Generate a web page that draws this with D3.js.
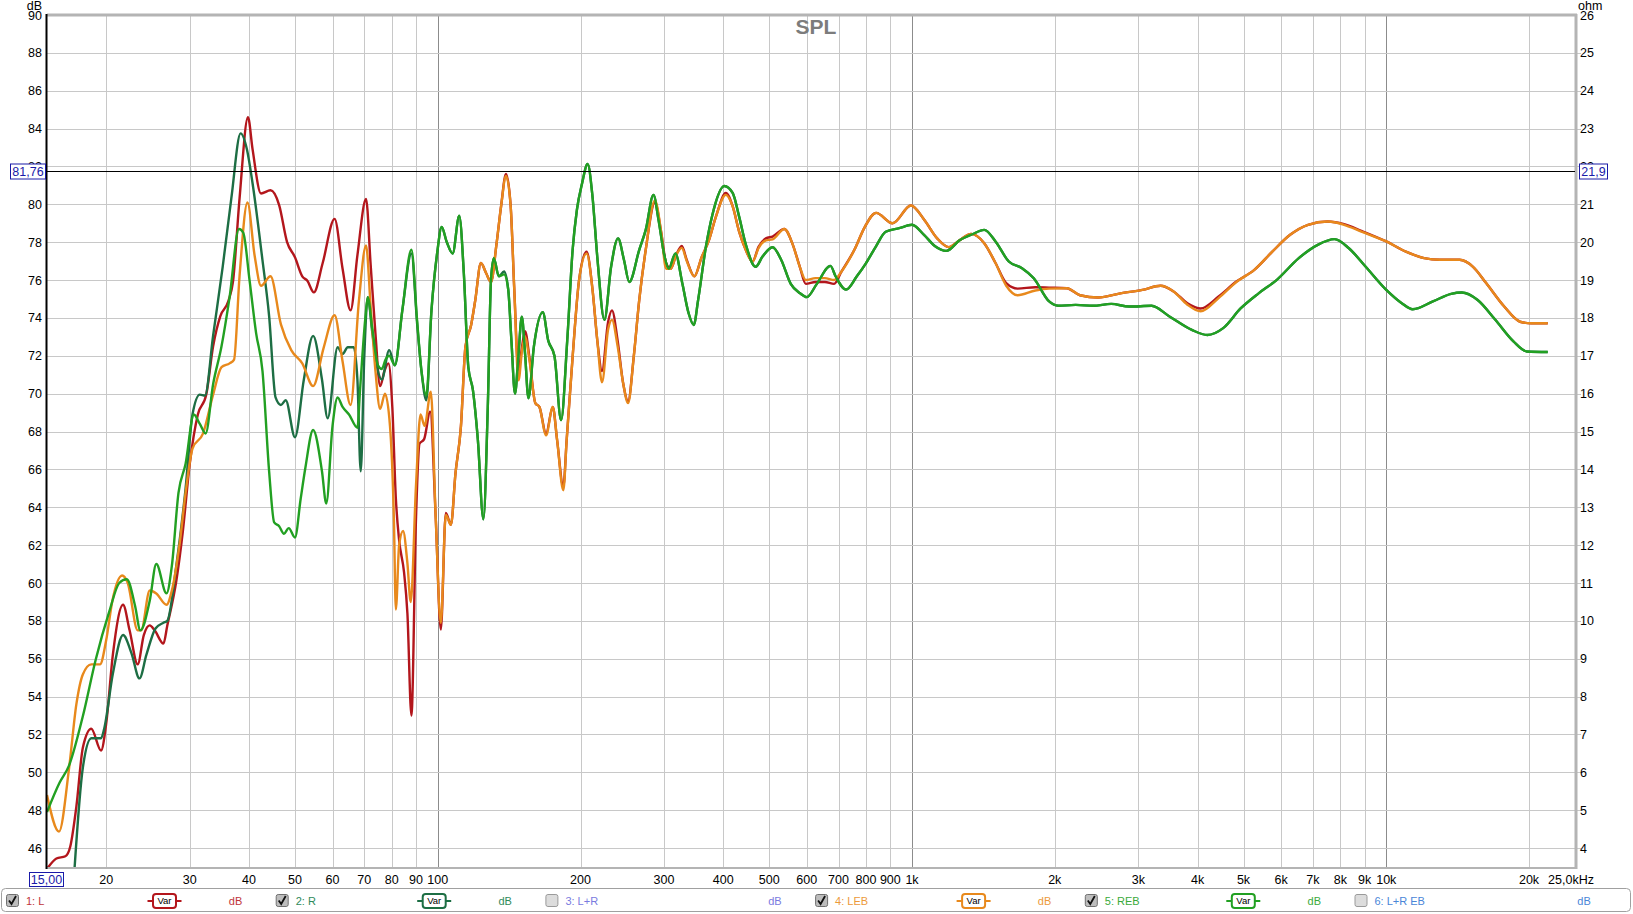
<!DOCTYPE html>
<html><head><meta charset="utf-8">
<script src="https://cdn.jsdelivr.net/npm/d3@7"></script>
<style>
body{margin:0;background:#fff;overflow:hidden}
svg{display:block}
text{font-family:"Liberation Sans",Arial,sans-serif}
</style>
</head><body>
<svg id="chart" width="1633" height="914"></svg>
<script>
// ---------- DATA ----------
const title = "SPL";
const xTickValues = [20,30,40,50,60,70,80,90,100,200,300,400,500,600,700,800,900,1000,2000,3000,4000,5000,6000,7000,8000,9000,10000,20000];
const xTickLabels = ["20","30","40","50","60","70","80","90","100","200","300","400","500","600","700","800","900","1k","2k","3k","4k","5k","6k","7k","8k","9k","10k","20k"];
const xMajorLines = [100,1000,10000];
const yTicksDb = [46,48,50,52,54,56,58,60,62,64,66,68,70,72,74,76,78,80,82,84,86,88,90];
const yTicksOhm = [4,5,6,7,8,9,10,11,12,13,14,15,16,17,18,19,20,21,22,23,24,25,26];
const cursorDb = 81.76, cursorDbLabel = "81,76", cursorOhmLabel = "21,9";
const startLabel = "15,00", endLabel = "25,0kHz";
const legendNames = ["1: L","2: R","3: L+R","4: LEB","5: REB","6: L+R EB"];
const legendChecked = [true,true,false,true,true,false];
const legendHasVar = [true,true,false,true,true,false];
const legendColors = ["#b3161c","#1d6e44","#6f6fdc","#e8891c","#22a022","#3d7cd4"];
const legendTextColors = ["#c0343a","#2f8a5a","#7a7ae0","#ec9a3a","#3aaa3a","#4a86d8"];

// 1: L  [Hz, dB]
const dataL = [[15,44.9],[15.7,45.45],[16.4,45.57],[16.8,46.1],[17.3,48.2],[17.85,51.3],[18.6,52.3],[19.5,51.15],[20,52.6],[20.65,56.2],[21.7,58.85],[22.4,57.5],[23.3,55.7],[24.0,57.25],[24.7,57.76],[25.3,57.5],[26.4,56.8],[26.9,57.76],[28.1,60.1],[29.0,62.7],[30.0,66.3],[31.2,68.9],[32.5,69.95],[33.6,72.5],[34.8,74.1],[36.2,74.9],[37.0,75.9],[38.2,80.3],[39.8,84.6],[40.7,82.9],[42.4,80.57],[44.4,80.74],[46.3,79.96],[48.1,78.02],[50,77.2],[51.8,76.2],[53.1,75.96],[54.8,75.35],[57.2,76.9],[60.6,79.23],[63.0,76.6],[65.5,74.4],[67.7,77.3],[70.6,80.28],[72.2,76.8],[73.9,73.17],[75.6,70.4],[77.2,71.2],[78.7,71.6],[80.2,69.3],[81.6,64.45],[82.9,62.26],[84.9,60.57],[86.3,58.4],[88.0,53.0],[90.0,63.5],[91.5,67.35],[93.6,67.6],[96.4,69.05],[99.0,63.5],[101.5,57.54],[104,63.7],[106.6,63.07],[109,65.8],[111.9,68.26],[114.4,72.5],[117.6,73.63],[120,74.95],[123.3,76.9],[126.5,76.36],[129.5,75.9],[133,77.9],[136,79.9],[139.3,81.6],[142.5,79.88],[145,75.5],[148,71.25],[150.6,72.5],[152.8,73.3],[156,71.96],[160.6,69.5],[163.8,69.3],[169.2,67.9],[174.8,69.3],[178.5,67.56],[184,65.1],[187,67.56],[192.5,71.96],[198.6,76.0],[206,77.5],[212,75.5],[217,72.8],[222,71.2],[228.7,73.8],[233,74.4],[239.5,72.8],[246,70.55],[252,69.6],[259,71.96],[266,74.95],[274.5,77.6],[287,80.1],[296,78.5],[303,76.9],[310,76.6],[318,77.3],[327,77.8],[335,77.06],[347.6,76.2],[360,77.2],[373,78.1],[386,79.35],[405,80.6],[418.6,79.9],[432,78.56],[446,77.6],[461,76.98],[475,77.77],[492,78.2],[508,78.3],[538,78.7],[560,77.9],[580,76.7],[597,75.8],[626,75.9],[655,75.9],[685,75.8],[710,76.45],[756,77.6],[795,78.8],[840,79.55],[910,79.0],[995,79.94],[1060,79.2],[1130,78.2],[1195,77.74],[1260,78.1],[1332,78.44],[1420,77.95],[1500,76.9],[1580,75.84],[1670,75.55],[1820,75.62],[1946,75.6],[2121,75.57],[2260,75.2],[2470,75.08],[2750,75.3],[3060,75.48],[3342,75.7],[3560,75.4],[3808,74.78],[4060,74.5],[4430,75.13],[4830,75.92],[5270,76.54],[5750,77.5],[6270,78.39],[6840,78.92],[7525,79.09],[8150,78.95],[8860,78.6],[10000,78.04],[11000,77.5],[12020,77.16],[12970,77.07],[14275,77.07],[15240,76.7],[16240,75.84],[17730,74.6],[19150,73.8],[20200,73.72],[21900,73.72]];

// 2: R
const dataR = [[17.0,43.5],[17.85,50.24],[18.6,51.8],[19.5,51.8],[19.8,52.3],[20.65,55.2],[21.7,57.25],[22.6,56.3],[23.5,54.96],[24.3,56.2],[25.4,57.6],[26.4,57.9],[26.9,58.0],[28.1,60.9],[29.4,65.0],[30.4,68.9],[31.5,69.95],[32.3,69.9],[33.6,73.06],[35.2,76.7],[36.7,80.3],[38.4,83.75],[39.6,82.9],[40.7,81.1],[42.7,77.05],[44.1,74.1],[45.5,69.8],[46.7,69.4],[47.8,69.65],[50,67.7],[52.2,70.75],[54.6,73.05],[57.0,70.75],[58.6,68.7],[61.5,72.45],[63.0,72.1],[64.6,72.45],[66.5,72.45],[67.7,70.75],[68.8,65.9],[70.0,71.96],[71.2,75.1],[72.8,73.2],[74.8,71.2],[76.2,70.75],[79,72.3],[81.2,71.5],[84.2,74.4],[88,77.4],[90.5,73.66],[92.4,71.2],[94.6,69.65],[97.0,74.4],[99.8,77.5],[101.9,78.8],[104.5,78.0],[107.5,77.4],[111,79.4],[113.5,76.36],[116,71.4],[118.6,70.2],[121.5,67.56],[124.8,63.37],[127.5,69.3],[129.5,76.0],[131.3,77.15],[134.5,76.2],[138,76.45],[140.8,75.5],[143,72.8],[145.5,70.0],[148,72.1],[150.4,74.07],[152.8,72.1],[155.3,69.76],[159.5,72.5],[166.5,74.3],[171,72.8],[176.2,72.0],[182,68.6],[187.5,72.8],[192.5,77.6],[196.5,79.7],[201.5,81.1],[207,82.13],[212,80.4],[217,77.2],[224.6,73.9],[232,76.7],[240,78.2],[247,77.06],[253.4,75.9],[266,77.6],[274.5,78.65],[285,80.5],[292,79.2],[300.8,77.24],[307,76.6],[317,77.4],[328,75.8],[338,74.25],[346.6,73.63],[354,74.95],[367.7,77.77],[379,79.4],[402,80.97],[418.6,80.6],[432,79.35],[446,77.9],[468,76.7],[484,77.24],[508,77.73],[530,77.06],[555,75.8],[581,75.3],[600,75.1],[630,75.8],[673,76.75],[690,76.2],[726,75.5],[765,76.2],[800,76.9],[839,77.77],[880,78.55],[940,78.74],[1000,78.92],[1060,78.39],[1117,77.8],[1181,77.54],[1260,78.1],[1340,78.42],[1420,78.65],[1500,78.04],[1600,76.98],[1706,76.63],[1806,76.1],[1946,74.87],[2034,74.64],[2213,74.69],[2410,74.64],[2630,74.74],[2870,74.6],[3200,74.64],[3490,74.08],[3890,73.37],[4196,73.1],[4530,73.46],[4930,74.5],[5380,75.3],[5870,76.0],[6540,77.16],[7170,77.86],[7780,78.16],[8340,77.68],[9050,76.7],[10000,75.48],[10780,74.78],[11370,74.46],[12540,74.87],[13700,75.27],[14430,75.34],[15560,74.96],[16980,73.9],[18540,72.76],[19780,72.23],[21900,72.2]];

// 4: LEB
const dataLEB = [[15,48.8],[15.9,46.87],[16.7,50.24],[17.3,53.6],[17.85,55.17],[18.6,55.7],[19.4,55.7],[20,57.0],[20.6,59.05],[21.6,60.4],[22.2,60.0],[23.3,57.5],[23.7,57.5],[24.7,59.6],[25.5,59.45],[26.8,58.85],[27.5,59.6],[28.6,62.2],[29.4,64.76],[30.4,67.1],[32,67.9],[33.6,69.95],[35,71.4],[36.4,71.6],[37.2,71.8],[38.2,76.2],[39.7,80.1],[41.1,77.3],[42.4,75.7],[44.4,76.2],[46.7,73.66],[49.1,72.3],[51.8,71.6],[54.6,70.4],[57.5,72.45],[60.6,74.14],[63.0,71.7],[65.5,69.4],[68.2,74.9],[70.6,77.83],[72.2,74.6],[73.9,71.2],[75.6,69.2],[77.4,70.0],[79.3,68.3],[80.8,63.5],[81.6,58.6],[82.9,62.0],[84.5,62.75],[86.3,61.05],[87.7,59.0],[90,65.2],[92,68.9],[93.8,68.3],[96.7,70.1],[99,63.5],[101.5,57.9],[104,63.6],[106.6,63.07],[109,65.8],[111.9,68.26],[114.4,72.5],[117.6,73.63],[120,74.95],[123.3,76.9],[126.5,76.36],[129.5,75.9],[133,77.9],[136,79.9],[139.3,81.5],[142.5,79.88],[145,75.5],[148,70.7],[150.6,72.3],[152.8,73.0],[156,71.8],[160.6,69.5],[163.8,69.3],[169.2,67.8],[174.8,69.3],[178.5,67.56],[184,64.9],[187,67.56],[192.5,71.96],[198.6,76.0],[206,77.4],[212,75.5],[217,72.8],[222,70.6],[228.7,73.4],[233,73.9],[239.5,72.5],[246,70.55],[252,69.5],[259,71.96],[266,74.95],[274.5,77.6],[287,80.2],[296,78.5],[303,76.6],[310,76.6],[318,77.3],[327,77.7],[335,77.0],[347.6,76.2],[360,77.2],[373,78.1],[386,79.35],[405,80.5],[418.6,79.9],[432,78.56],[446,77.6],[461,76.98],[475,77.7],[492,78.1],[508,78.15],[538,78.7],[560,77.9],[580,76.7],[597,76.0],[626,76.1],[655,76.1],[685,76.0],[710,76.45],[756,77.6],[795,78.8],[840,79.55],[910,79.0],[995,79.94],[1060,79.2],[1130,78.2],[1195,77.74],[1260,78.1],[1332,78.44],[1420,77.95],[1500,76.9],[1580,75.7],[1670,75.2],[1820,75.45],[1946,75.55],[2121,75.57],[2260,75.2],[2470,75.08],[2750,75.3],[3060,75.48],[3342,75.7],[3560,75.4],[3808,74.7],[4060,74.35],[4430,75.05],[4830,75.9],[5270,76.54],[5750,77.5],[6270,78.39],[6840,78.92],[7525,79.09],[8150,78.92],[8860,78.56],[10000,78.04],[11000,77.5],[12020,77.16],[12970,77.07],[14275,77.07],[15240,76.7],[16240,75.84],[17730,74.6],[19150,73.8],[20200,73.72],[21900,73.72]];

// 5: REB
const dataREB = [[15,47.9],[15.95,49.46],[16.7,50.37],[17.85,52.96],[19,55.95],[20.3,58.5],[21.3,60.0],[22.1,60.2],[23.0,58.8],[23.6,57.5],[24.7,59.06],[25.5,61.0],[26.8,59.45],[27.5,60.9],[28.4,64.76],[29.4,66.3],[30.6,68.9],[31.5,68.4],[32.4,67.9],[33.6,70.5],[35,72.5],[36.4,75.1],[38.1,78.7],[38.9,78.5],[40.1,76.0],[41.4,73.2],[42.7,71.2],[44.1,65.9],[45.2,63.2],[46.3,63.0],[47.4,62.6],[48.5,62.9],[50,62.4],[51.4,64.45],[52.6,66.1],[54.6,68.08],[57.0,65.9],[58.2,64.2],[60,68.3],[61.5,69.8],[63,69.3],[65,68.9],[67.7,68.2],[68.6,70.26],[70.3,73.9],[71.2,75.1],[72.8,73.4],[74.8,71.5],[76.2,71.3],[77.6,71.8],[79,72.0],[81.2,71.5],[84.2,74.4],[88,77.6],[90.5,73.8],[92.4,71.2],[94.6,69.9],[97.0,74.4],[99.8,77.5],[101.9,78.8],[104.5,78.0],[107.5,77.4],[111,79.4],[113.5,76.36],[116,71.4],[118.6,70.2],[121.5,67.56],[124.8,63.37],[127.5,69.3],[129.5,76.0],[131.3,77.15],[134.5,76.2],[138,76.3],[140.8,75.5],[143,72.8],[145.5,70.0],[148,72.1],[150.4,74.07],[152.8,72.1],[155.3,69.76],[159.5,72.5],[166.5,74.3],[171,72.8],[176.2,72.0],[182,68.6],[187.5,72.8],[192.5,77.6],[196.5,79.7],[201.5,81.1],[207,82.13],[212,80.4],[217,77.2],[224.6,73.9],[232,76.7],[240,78.2],[247,77.06],[253.4,75.9],[266,77.6],[274.5,78.65],[285,80.5],[292,79.2],[300.8,77.24],[307,76.6],[317,77.4],[328,75.8],[338,74.25],[346.6,73.63],[354,74.95],[367.7,77.77],[379,79.4],[402,80.97],[418.6,80.6],[432,79.35],[446,77.9],[468,76.7],[484,77.24],[508,77.73],[530,77.06],[555,75.8],[581,75.3],[600,75.1],[630,75.8],[673,76.75],[690,76.2],[726,75.5],[765,76.2],[800,76.9],[839,77.77],[880,78.55],[940,78.74],[1000,78.92],[1060,78.39],[1117,77.8],[1181,77.54],[1260,78.1],[1340,78.42],[1420,78.65],[1500,78.04],[1600,76.98],[1706,76.63],[1806,76.1],[1946,74.87],[2034,74.64],[2213,74.69],[2410,74.64],[2630,74.74],[2870,74.6],[3200,74.64],[3490,74.08],[3890,73.37],[4196,73.1],[4530,73.46],[4930,74.5],[5380,75.3],[5870,76.0],[6540,77.16],[7170,77.86],[7780,78.16],[8340,77.68],[9050,76.7],[10000,75.48],[10780,74.78],[11370,74.46],[12540,74.87],[13700,75.27],[14430,75.34],[15560,74.96],[16980,73.9],[18540,72.76],[19780,72.23],[21900,72.2]];

const seriesList = [
  {data: dataL, color: legendColors[0]},
  {data: dataR, color: legendColors[1]},
  {data: dataLEB, color: legendColors[3]},
  {data: dataREB, color: legendColors[4]}
];

// ---------- LAYOUT ----------
const L = 47, T = 15, R = 1575, B = 867;
const svg = d3.select("#chart");

const x = d3.scaleLog().domain([15, 25000]).range([L, R]);
const y = d3.scaleLinear().domain([45, 90]).range([B, T]);
const yOhm = d3.scaleLinear().domain([3.5, 26]).range([B, T]);

// gridlines
const grid = svg.append("g");
const minorFreqs = [];
[10,100,1000,10000].forEach(dec => { for (let k = 1; k <= 9; k++) { const f = dec * k; if (f > 15 && f < 25000) minorFreqs.push(f); } });
grid.selectAll("line.v").data(minorFreqs).enter().append("line")
  .attr("x1", d => Math.round(x(d)) + 0.5).attr("x2", d => Math.round(x(d)) + 0.5)
  .attr("y1", T).attr("y2", B)
  .attr("stroke", d => xMajorLines.includes(d) ? "#8c8c8c" : "#c8c8c8").attr("stroke-width", 1);
grid.selectAll("line.h").data(yTicksDb.filter(v => v < 90)).enter().append("line")
  .attr("x1", L).attr("x2", R + 6)
  .attr("y1", d => Math.round(y(d)) + 0.5).attr("y2", d => Math.round(y(d)) + 0.5)
  .attr("stroke", "#c8c8c8").attr("stroke-width", 1);

// title
svg.append("text").attr("x", 816).attr("y", 34).attr("text-anchor", "middle")
  .attr("font-size", 21).attr("font-weight", "bold").attr("fill", "#7c7c7c").text(title);

// curves
svg.append("clipPath").attr("id", "clip").append("rect")
  .attr("x", L).attr("y", T).attr("width", R - L).attr("height", B - T);
const line = d3.line().x(d => x(d[0])).y(d => y(d[1])).curve(d3.curveMonotoneX);
const curves = svg.append("g").attr("clip-path", "url(#clip)");
seriesList.forEach(s => {
  curves.append("path").attr("d", line(s.data)).attr("fill", "none")
    .attr("stroke", s.color).attr("stroke-width", 2.4).attr("stroke-linejoin", "round");
});

// frame
svg.append("line").attr("x1", L).attr("x2", R + 2).attr("y1", T).attr("y2", T).attr("stroke", "#b4b4b4").attr("stroke-width", 3);
svg.append("line").attr("x1", R + 1).attr("x2", R + 1).attr("y1", T - 1).attr("y2", B + 2).attr("stroke", "#b4b4b4").attr("stroke-width", 3);
svg.append("line").attr("x1", L).attr("x2", R + 2).attr("y1", B + 1).attr("y2", B + 1).attr("stroke", "#b4b4b4").attr("stroke-width", 2);
svg.append("line").attr("x1", L - 0.5).attr("x2", L - 0.5).attr("y1", T - 1).attr("y2", B + 2).attr("stroke", "#000").attr("stroke-width", 2);

// left axis labels
const axL = svg.append("g").attr("font-size", 12.5).attr("fill", "#000");
axL.selectAll("text").data(yTicksDb).enter().append("text")
  .attr("x", 42).attr("y", d => y(d)).attr("dy", "0.36em").attr("text-anchor", "end").text(d => d);
svg.append("text").attr("x", 42).attr("y", 10).attr("text-anchor", "end").attr("font-size", 12.5).text("dB");

// right axis labels
const axR = svg.append("g").attr("font-size", 12.5).attr("fill", "#000");
axR.selectAll("text").data(yTicksOhm).enter().append("text")
  .attr("x", 1580).attr("y", d => yOhm(d)).attr("dy", "0.36em").attr("text-anchor", "start").text(d => d);
svg.append("text").attr("x", 1578).attr("y", 10).attr("font-size", 12.5).text("ohm");

// bottom axis labels
const axB = svg.append("g").attr("font-size", 12.5).attr("fill", "#000");
axB.selectAll("text").data(xTickValues).enter().append("text")
  .attr("x", d => x(d)).attr("y", 884).attr("text-anchor", "middle").text((d, i) => xTickLabels[i]);
svg.append("text").attr("x", 1571).attr("y", 884).attr("text-anchor", "middle").attr("font-size", 12.5).text(endLabel);

// start frequency box
svg.append("rect").attr("x", 29.5).attr("y", 872.5).attr("width", 34).attr("height", 14).attr("fill", "#fff").attr("stroke", "#1a1aa8").attr("stroke-width", 1);
svg.append("text").attr("x", 46.5).attr("y", 884).attr("text-anchor", "middle").attr("font-size", 12.5).attr("fill", "#1a1aa8").text(startLabel);

// cursor line
const cy = Math.round(y(cursorDb)) + 0.5;
svg.append("line").attr("x1", L).attr("x2", R).attr("y1", cy).attr("y2", cy).attr("stroke", "#000").attr("stroke-width", 1);
svg.append("rect").attr("x", 10.5).attr("y", cy - 7.5).attr("width", 35).attr("height", 15).attr("fill", "#fff").attr("stroke", "#1a1aa8");
svg.append("text").attr("x", 28).attr("y", cy).attr("dy", "0.36em").attr("text-anchor", "middle").attr("font-size", 12.5).attr("fill", "#1a1aa8").text(cursorDbLabel);
svg.append("rect").attr("x", 1579.5).attr("y", cy - 7.5).attr("width", 28).attr("height", 15).attr("fill", "#fff").attr("stroke", "#1a1aa8");
svg.append("text").attr("x", 1593.5).attr("y", cy).attr("dy", "0.36em").attr("text-anchor", "middle").attr("font-size", 12.5).attr("fill", "#1a1aa8").text(cursorOhmLabel);

// legend
const leg = svg.append("g");
leg.append("rect").attr("x", 1.5).attr("y", 888.5).attr("width", 1629).attr("height", 23).attr("rx", 4)
  .attr("fill", "#fff").attr("stroke", "#a0a0a0");
const ly = 901;
legendNames.forEach((name, i) => {
  const cx = 12.5 + i * 269.7;
  const g = leg.append("g");
  g.append("rect").attr("x", cx - 6).attr("y", ly - 6.5).attr("width", 12).attr("height", 12).attr("rx", 2)
    .attr("fill", legendChecked[i] ? "#bdbdbd" : "#dcdcdc").attr("stroke", legendChecked[i] ? "#707070" : "#9a9a9a");
  if (legendChecked[i]) {
    g.append("path").attr("d", `M${cx-3.5},${ly-0.5} L${cx-1},${ly+3} L${cx+3.5},${ly-5}`)
      .attr("fill", "none").attr("stroke", "#111").attr("stroke-width", 1.8);
  }
  g.append("text").attr("x", cx + 13.5).attr("y", ly).attr("dy", "0.36em").attr("font-size", 11)
    .attr("fill", legendTextColors[i]).text(name);
  if (legendHasVar[i]) {
    const vx = cx + 152;
    g.append("line").attr("x1", vx - 17).attr("x2", vx + 17).attr("y1", ly).attr("y2", ly).attr("stroke", legendColors[i]).attr("stroke-width", 2);
    g.append("rect").attr("x", vx - 11.5).attr("y", ly - 7).attr("width", 23).attr("height", 14).attr("rx", 3)
      .attr("fill", "#fff").attr("stroke", legendColors[i]).attr("stroke-width", 2);
    g.append("text").attr("x", vx).attr("y", ly).attr("dy", "0.35em").attr("text-anchor", "middle").attr("font-size", 9.5)
      .attr("fill", "#000").text("Var");
  }
  g.append("text").attr("x", cx + 223).attr("y", ly).attr("dy", "0.36em").attr("text-anchor", "middle").attr("font-size", 11)
    .attr("fill", legendTextColors[i]).text("dB");
});
</script>
</body></html>
